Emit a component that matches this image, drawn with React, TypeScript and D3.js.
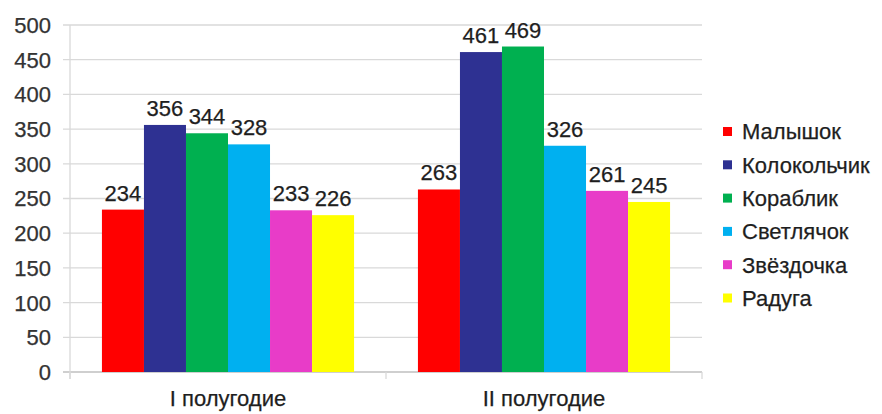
import React, { useEffect, useRef } from "react";
import * as d3 from "d3";

const categories = ["I полугодие", "II полугодие"];
const seriesNames = ["Малышок", "Колокольчик", "Кораблик", "Светлячок", "Звёздочка", "Радуга"];
const seriesColors = ["#FF0000", "#2E3192", "#00B050", "#00B0F0", "#E83CC8", "#FFFF00"];
const values1 = [234, 356, 344, 328, 233, 226];
const values2 = [263, 461, 469, 326, 261, 245];
const yTicks = [0, 50, 100, 150, 200, 250, 300, 350, 400, 450, 500];

const W = 882;
const H = 414;
const M = { left: 70, right: 180, top: 25, bottom: 42 };

export default function App() {
  const ref = useRef<SVGSVGElement | null>(null);

  useEffect(() => {
    document.body.style.margin = "0";
    const svg = d3.select(ref.current);
    svg.selectAll("*").remove();
    const font = "'Liberation Sans', Arial, sans-serif";
    const fs = 22;
    const txt = "#1e1e1e";

    const x0 = d3.scaleBand<string>().domain(categories).range([M.left, W - M.right]).paddingInner(0).paddingOuter(0);
    const x1 = d3
      .scaleBand<string>()
      .domain(seriesNames)
      .range([0, x0.bandwidth()])
      .paddingInner(0)
      .paddingOuter(0.76);
    const y = d3.scaleLinear().domain([0, 500]).range([H - M.bottom, M.top]);

    const g = svg.append("g");

    // gridlines
    g.selectAll("line.grid")
      .data(yTicks)
      .enter()
      .append("line")
      .attr("x1", M.left - 7)
      .attr("x2", W - M.right)
      .attr("y1", (d) => y(d))
      .attr("y2", (d) => y(d))
      .attr("stroke", (d) => (d === 0 ? "#BFBFBF" : "#D9D9D9"))
      .attr("stroke-width", 1.3);

    // y axis line
    g.append("line")
      .attr("x1", M.left)
      .attr("x2", M.left)
      .attr("y1", y(500))
      .attr("y2", y(0) + 7)
      .attr("stroke", "#D9D9D9")
      .attr("stroke-width", 1.3);

    // x category ticks
    const bounds = [M.left, (x0(categories[1]) as number), W - M.right];
    g.selectAll("line.xt")
      .data(bounds)
      .enter()
      .append("line")
      .attr("x1", (d) => d)
      .attr("x2", (d) => d)
      .attr("y1", y(0))
      .attr("y2", y(0) + 7)
      .attr("stroke", "#D9D9D9")
      .attr("stroke-width", 1.3);

    const styleText = (sel: any) =>
      sel
        .attr("font-family", font)
        .attr("font-size", fs)
        .attr("fill", txt)
        .attr("stroke", txt)
        .attr("stroke-width", 0.25);

    // y tick labels
    g.selectAll("text.yt")
      .data(yTicks)
      .enter()
      .append("text")
      .attr("x", 51)
      .attr("y", (d) => y(d))
      .attr("dy", "0.36em")
      .attr("text-anchor", "end")
      .call(styleText)
      .attr("fill", "#333")
      .attr("stroke", "#333")
      .text((d) => String(d));

    const data = [values1, values2];
    categories.forEach((cat, ci) => {
      const grp = g.append("g").attr("transform", `translate(${x0(cat)},0)`);
      const vals = data[ci];
      grp
        .selectAll("rect")
        .data(vals)
        .enter()
        .append("rect")
        .attr("x", (_, i) => x1(seriesNames[i]) as number)
        .attr("width", x1.bandwidth())
        .attr("y", (d) => y(d))
        .attr("height", (d) => y(0) - y(d))
        .attr("fill", (_, i) => seriesColors[i]);
      grp
        .selectAll("text")
        .data(vals)
        .enter()
        .append("text")
        .attr("x", (_, i) => (x1(seriesNames[i]) as number) + x1.bandwidth() / 2)
        .attr("y", (d) => y(d) - 9)
        .attr("text-anchor", "middle")
        .call(styleText)
        .text((d) => String(d));
      g.append("text")
        .attr("x", (x0(cat) as number) + x0.bandwidth() / 2)
        .attr("y", 406)
        .attr("text-anchor", "middle")
        .call(styleText)
        .text(cat);
    });

    // legend
    const leg = g.append("g");
    seriesNames.forEach((name, i) => {
      const cy = 131.5 + i * 33.3;
      leg
        .append("rect")
        .attr("x", 723)
        .attr("y", cy - 4.5)
        .attr("width", 9)
        .attr("height", 9)
        .attr("fill", seriesColors[i]);
      leg
        .append("text")
        .attr("x", 742)
        .attr("y", cy)
        .attr("dy", "0.36em")
        .call(styleText)
        .text(name);
    });
  }, []);

  return (
    <svg
      ref={ref}
      width={W}
      height={H}
      style={{ position: "fixed", left: 0, top: 0, background: "#fff" }}
    />
  );
}
